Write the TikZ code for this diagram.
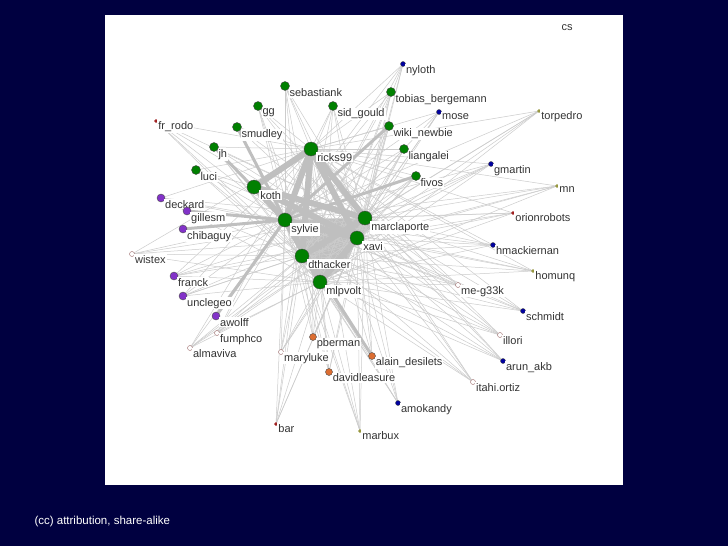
\documentclass[tikz,border=0pt]{standalone}
\usepackage{fontspec}
\setmainfont{Liberation Sans}
\definecolor{navy}{RGB}{0,0,64}
\definecolor{dotgreen}{RGB}{0,128,0}
\definecolor{dotblue}{RGB}{0,0,160}
\definecolor{dotpurple}{RGB}{130,50,200}
\definecolor{dotorange}{RGB}{220,110,50}
\definecolor{dotred}{RGB}{160,30,30}
\definecolor{dotolive}{RGB}{150,150,60}
\tikzset{
  edge/.style={draw=gray!40, line width=0.5pt},
  thick edge/.style={draw=gray!50, line width=6pt},
  dot/.style={circle, draw=black!70, line width=0.4pt, inner sep=0pt,
    label={[lbl]below right:#1}},
  lbl/.style={font=\fontsize{11}{13}\selectfont, fill=white, inner sep=1pt, text=black!80, yshift=2pt},
  hub/.style={dot=#1, fill=dotgreen, minimum size=14pt},
  green/.style={dot=#1, fill=dotgreen, minimum size=9pt},
  blue/.style={dot=#1, fill=dotblue, minimum size=5pt},
  purple/.style={dot=#1, fill=dotpurple, minimum size=8pt},
  hollow/.style={dot=#1, fill=white, draw=gray!80!red, minimum size=5pt},
  orange/.style={dot=#1, fill=dotorange, minimum size=7pt},
  redtiny/.style={dot=#1, fill=dotred, draw=dotred, minimum size=3pt},
  olivetiny/.style={dot=#1, fill=dotolive, draw=dotolive, minimum size=3pt},
}
\begin{document}
\begin{tikzpicture}[x=1pt, y=-1pt]
  \fill[navy] (0,0) rectangle (728,546);
  \fill[white] (105,15) rectangle (623,485);
  \node[text=white, font=\fontsize{11.5}{13}\selectfont, anchor=west] (cc) at (31,522) {(cc) attribution, share-alike};
  \node[font=\fontsize{11}{13}\selectfont, text=black!80] (cs) at (567,28) {cs};

  % coordinates of every member
  \coordinate (c-ricks99) at (311,149);
  \coordinate (c-koth) at (254,187);
  \coordinate (c-sylvie) at (285,220);
  \coordinate (c-marclaporte) at (365,218);
  \coordinate (c-xavi) at (357,238);
  \coordinate (c-dthacker) at (302,256);
  \coordinate (c-mlpvolt) at (320,282);

  % core block
  \fill[gray!50] (c-sylvie) -- (c-marclaporte) -- (380,222) -- (c-xavi) -- (345,268) -- (c-mlpvolt) -- (c-dthacker) -- cycle;

  % light connectors
  \foreach \h in {ricks99,sylvie,marclaporte,xavi,dthacker,mlpvolt}
    \foreach \p/\q in {403/64, 439/112, 491/164, 493/245, 523/311, 503/361, 398/403,
        132/254, 217/333, 190/348, 281/352, 458/285, 500/335, 473/382,
        313/337, 372/356, 329/372, 156/121, 513/213, 276/424,
        539/111, 557/186, 533/271, 360/431, 285/86, 258/106, 333/106,
        237/127, 214/147, 196/170, 391/92, 389/126, 404/149, 416/176,
        161/198, 183/296, 174/276}
      \draw[edge] (c-\h) -- (\p,\q);

  % heavy connectors
  \foreach \a/\b in {ricks99/sylvie, ricks99/marclaporte, ricks99/xavi, ricks99/dthacker,
      koth/sylvie, koth/marclaporte, sylvie/xavi, marclaporte/dthacker, sylvie/mlpvolt,
      xavi/mlpvolt, koth/xavi, ricks99/koth}
    \draw[thick edge] (c-\a) -- (c-\b);
  \foreach \p/\q in {214/147, 187/211, 183/229, 216/316, 372/356, 416/176, 389/126, 237/127}
    \draw[thick edge, line width=3pt] (c-sylvie) -- (\p,\q);

  % members
  \node[hub=ricks99] (ricks99) at (c-ricks99) {};
  \node[hub=koth] (koth) at (c-koth) {};
  \node[hub=sylvie] (sylvie) at (c-sylvie) {};
  \node[hub=marclaporte] (marclaporte) at (c-marclaporte) {};
  \node[hub=xavi] (xavi) at (c-xavi) {};
  \node[hub=dthacker] (dthacker) at (c-dthacker) {};
  \node[hub=mlpvolt] (mlpvolt) at (c-mlpvolt) {};

  \node[green=sebastiank] (sebastiank) at (285,86) {};
  \node[green=gg] (gg) at (258,106) {};
  \node[green=sid\_gould] (sid) at (333,106) {};
  \node[green=smudley] (smudley) at (237,127) {};
  \node[green=jh] (jh) at (214,147) {};
  \node[green=luci] (luci) at (196,170) {};
  \node[green=tobias\_bergemann] (tobias) at (391,92) {};
  \node[green=wiki\_newbie] (wiki) at (389,126) {};
  \node[green=liangalei] (liangalei) at (404,149) {};
  \node[green=fivos] (fivos) at (416,176) {};

  \node[blue=nyloth] (nyloth) at (403,64) {};
  \node[blue=mose] (mose) at (439,112) {};
  \node[blue=gmartin] (gmartin) at (491,164) {};
  \node[blue=hmackiernan] (hmackiernan) at (493,245) {};
  \node[blue=schmidt] (schmidt) at (523,311) {};
  \node[blue=arun\_akb] (arun) at (503,361) {};
  \node[blue=amokandy] (amokandy) at (398,403) {};

  \node[purple=deckard] (deckard) at (161,198) {};
  \node[purple=gillesm] (gillesm) at (187,211) {};
  \node[purple=chibaguy] (chibaguy) at (183,229) {};
  \node[purple=franck] (franck) at (174,276) {};
  \node[purple=unclegeo] (unclegeo) at (183,296) {};
  \node[purple=awolff] (awolff) at (216,316) {};

  \node[hollow=wistex] (wistex) at (132,254) {};
  \node[hollow=fumphco] (fumphco) at (217,333) {};
  \node[hollow=almaviva] (almaviva) at (190,348) {};
  \node[hollow=maryluke] (maryluke) at (281,352) {};
  \node[hollow=me-g33k] (meg) at (458,285) {};
  \node[hollow=illori] (illori) at (500,335) {};
  \node[hollow=itahi.ortiz] (itahi) at (473,382) {};

  \node[orange=pberman] (pberman) at (313,337) {};
  \node[orange=alain\_desilets] (alain) at (372,356) {};
  \node[orange=davidleasure] (davidleasure) at (329,372) {};

  \node[redtiny=fr\_rodo] (frrodo) at (156,121) {};
  \node[redtiny=orionrobots] (orionrobots) at (513,213) {};
  \node[redtiny=bar] (bar) at (276,424) {};

  \node[olivetiny=torpedro] (torpedro) at (539,111) {};
  \node[olivetiny=mn] (mn) at (557,186) {};
  \node[olivetiny=homunq] (homunq) at (533,271) {};
  \node[olivetiny=marbux] (marbux) at (360,431) {};
\end{tikzpicture}
\end{document}
